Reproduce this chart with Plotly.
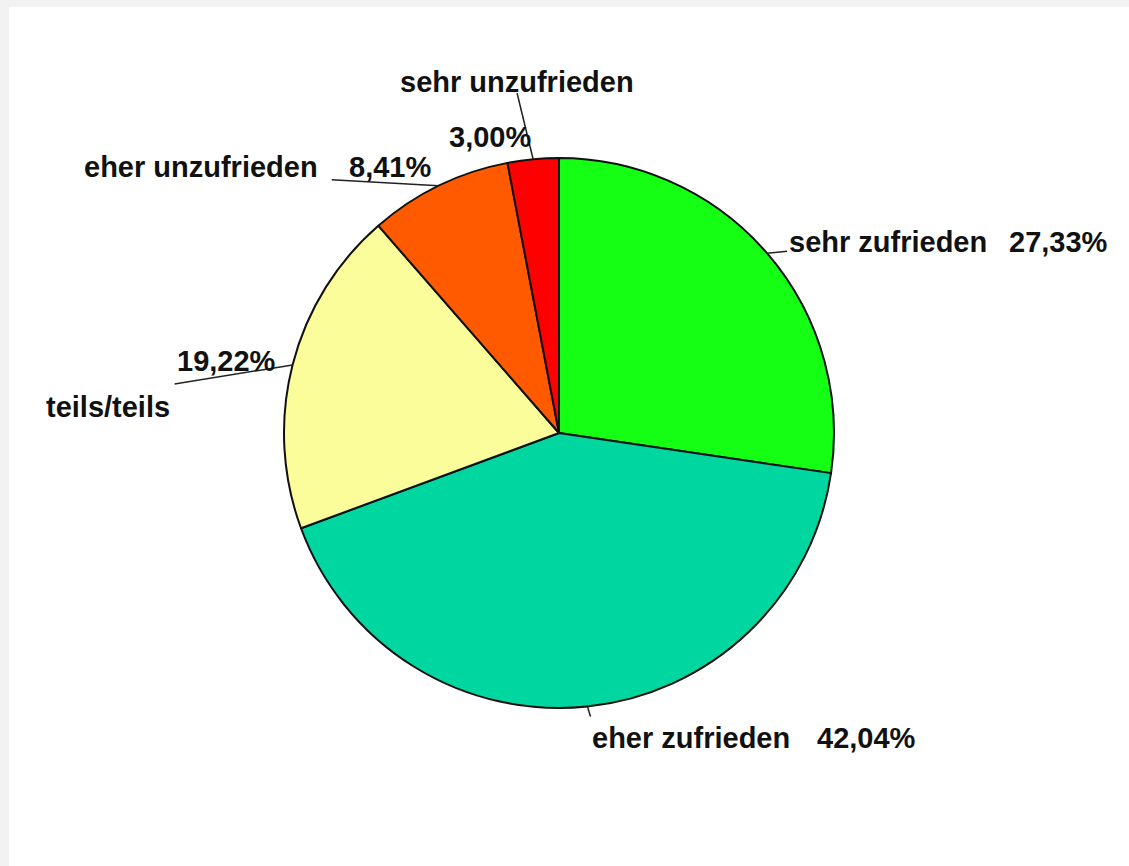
import math
import plotly.graph_objects as go

# ---- data ----
categories = ["sehr zufrieden", "eher zufrieden", "teils/teils", "eher unzufrieden", "sehr unzufrieden"]
values = [27.33, 42.04, 19.22, 8.41, 3.00]
colors = ["#14ff14", "#00d6a0", "#fafd99", "#ff5a00", "#ff0000"]

W, H = 1129, 866
CX, CY, R = 559, 433, 275  # pie centre / radius in px


def px(x):
    return x / W


def py(y):
    return 1 - y / H


fig = go.Figure()
fig.add_trace(go.Pie(
    labels=categories,
    values=values,
    sort=False,
    direction="clockwise",
    rotation=0,
    textinfo="none",
    hoverinfo="label+percent",
    marker=dict(colors=colors, line=dict(color="#111111", width=2)),
    domain=dict(x=[px(CX - R), px(CX + R)], y=[py(CY + R), py(CY - R)]),
    showlegend=False,
))

# label layout (pixel offsets relative to the slice mid-point on the rim)
layout_spec = [
    dict(line=(20, -2), name=((20, -11), "left"), pct=((343, -11), "right")),
    dict(line=(3, 10), name=((3, 31), "left"), pct=((331, 31), "right")),
    dict(line=(-118, 19), name=((-121, 42), "right"), pct=((-118, -4), "left")),
    dict(line=(-107, -6), name=((-119, -19), "right"), pct=((-92, -19), "left")),
    dict(line=(-16, -66), name=((-16, -77), "center"), pct=((0, -22), "right")),
]

font = dict(family="Liberation Sans, Arial, sans-serif", size=29, color="#111111", weight="bold")

total = sum(values)
cum = 0.0
shapes = [dict(type="rect", xref="paper", yref="paper", x0=px(9), x1=1, y0=0, y1=py(7),
               fillcolor="white", line=dict(width=0), layer="below")]
annotations = []
for cat, val, spec in zip(categories, values, layout_spec):
    mid = (cum + val / 2) / total * 2 * math.pi
    cum += val
    rx = CX + R * math.sin(mid)
    ry = CY - R * math.cos(mid)
    lx, ly = rx + spec["line"][0], ry + spec["line"][1]
    shapes.append(dict(type="line", xref="paper", yref="paper",
                       x0=px(rx), y0=py(ry), x1=px(lx), y1=py(ly),
                       line=dict(color="#222222", width=1.5)))
    pct_text = f"{val:.2f}%".replace(".", ",")
    (nx, ny), nanc = spec["name"]
    (qx, qy), qanc = spec["pct"]
    annotations.append(dict(x=px(rx + nx), y=py(ry + ny), xref="paper", yref="paper",
                            text=cat, showarrow=False, xanchor=nanc, yanchor="middle", font=font))
    annotations.append(dict(x=px(rx + qx), y=py(ry + qy), xref="paper", yref="paper",
                            text=pct_text, showarrow=False, xanchor=qanc, yanchor="middle", font=font))

fig.update_layout(
    width=W, height=H,
    margin=dict(l=0, r=0, t=0, b=0),
    paper_bgcolor="#f2f2f2",
    plot_bgcolor="white",
    shapes=shapes,
    annotations=annotations,
)

fig.write_html("out.html",
               config={"displayModeBar": False},
               post_script="document.body.style.margin='0';document.body.style.overflow='hidden';")
